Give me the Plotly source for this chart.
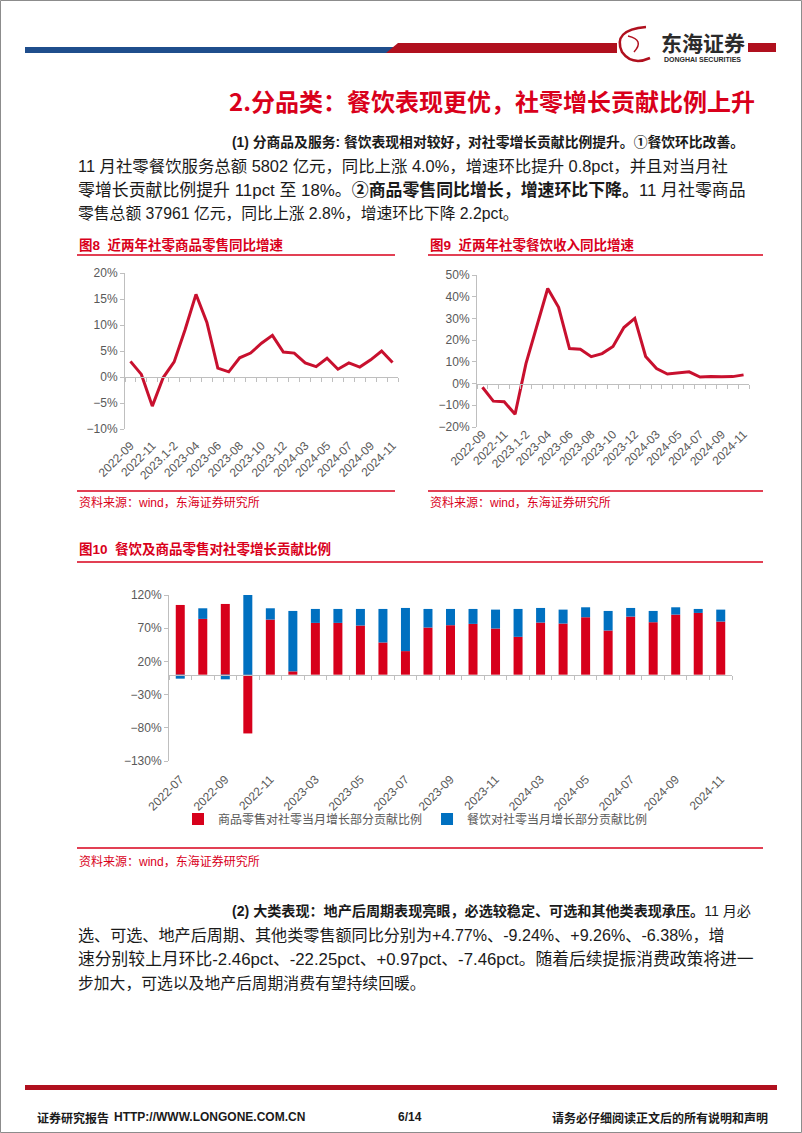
import plotly.graph_objects as go

W, H = 802, 1133

# ---------------- data ----------------
months_line = ["2022-09", "2022-10", "2022-11", "2022-12", "2023.1-2", "2023-03", "2023-04",
               "2023-05", "2023-06", "2023-07", "2023-08", "2023-09", "2023-10", "2023-11",
               "2023-12", "2024.1-2", "2024-03", "2024-04", "2024-05", "2024-06", "2024-07",
               "2024-08", "2024-09", "2024-10", "2024-11"]
goods_yoy = [3.0, 0.5, -5.6, -0.1, 2.9, 9.1, 15.9, 10.5, 1.7, 1.0, 3.7, 4.6, 6.5, 8.0,
             4.8, 4.6, 2.7, 2.0, 3.6, 1.5, 2.7, 1.9, 3.3, 5.0, 2.8]
catering_yoy = [-1.7, -8.1, -8.4, -14.1, 9.2, 26.3, 43.8, 35.1, 16.1, 15.8, 12.4, 13.8, 17.1,
                25.8, 30.0, 12.5, 6.9, 4.4, 5.0, 5.4, 3.0, 3.3, 3.1, 3.2, 4.0]

months_bar = ["2022-07", "2022-08", "2022-09", "2022-10", "2022-11", "2022-12", "2023-03",
              "2023-04", "2023-05", "2023-06", "2023-07", "2023-08", "2023-09", "2023-10",
              "2023-11", "2023-12", "2024-03", "2024-04", "2024-05", "2024-06", "2024-07",
              "2024-08", "2024-09", "2024-10", "2024-11"]
goods_share = [105, 84, 106.5, -88.5, 83, 5, 78, 78, 74, 48.5, 35.5, 71, 74.5, 76.5, 69.5,
               57, 78.5, 77, 86.5, 66.5, 87.5, 79, 90.5, 93, 80]
catering_share = [-6, 16, -7, 188.5, 17, 91, 21, 21, 25, 50.5, 65, 28, 24.5, 22.5, 28.5,
                  42, 22, 21, 15, 29.5, 13, 17, 11, 6, 18]

series_goods_name = "商品零售对社零当月增长部分贡献比例"
series_cat_name = "餐饮对社零当月增长部分贡献比例"

# ---------------- styles ----------------
RED_LINE = "#C8102E"
RED_BAR = "#D7001B"
BLUE_BAR = "#0070C0"
TITLE_RED = "#D9001B"
HDR_RED = "#B0101E"
HDR_BLUE = "#1F4E8C"
GRAY_TXT = "#595959"
AXIS_GRAY = "#BFBFBF"
CJK = "Liberation Sans, Noto Sans CJK SC"


def px(x):
    return x / W


def py(y):
    return 1 - y / H


fig = go.Figure()

# ---------------- traces ----------------
fig.add_trace(go.Scatter(x=list(range(len(months_line))), y=goods_yoy, mode="lines",
                         line=dict(color=RED_LINE, width=3), xaxis="x", yaxis="y",
                         showlegend=False, hoverinfo="skip"))
fig.add_trace(go.Scatter(x=list(range(len(months_line))), y=catering_yoy, mode="lines",
                         line=dict(color=RED_LINE, width=3), xaxis="x2", yaxis="y2",
                         showlegend=False, hoverinfo="skip"))
fig.add_trace(go.Bar(x=list(range(len(months_bar))), y=goods_share, name=series_goods_name,
                     marker=dict(color=RED_BAR, line=dict(width=0)), width=0.4,
                     xaxis="x3", yaxis="y3"))
fig.add_trace(go.Bar(x=list(range(len(months_bar))), y=catering_share, name=series_cat_name,
                     marker=dict(color=BLUE_BAR, line=dict(width=0)), width=0.4,
                     xaxis="x3", yaxis="y3"))


def axes(xl, xr, ytop, ybot, rng, dtick, labels, standoff):
    n = len(labels)
    yb, yt = py(ybot), py(ytop)
    pos = yb + (0 - rng[0]) / (rng[1] - rng[0]) * (yt - yb)
    xa = dict(domain=[px(xl), px(xr)], range=[-0.5, n - 0.5], type="linear",
              anchor="free", position=pos, showline=True, linecolor=AXIS_GRAY, linewidth=1,
              showgrid=False, zeroline=False, automargin=False,
              tickmode="array", tickvals=list(range(0, n, 2)), ticktext=labels[::2],
              ticks="", tickangle=-45, ticklabelstandoff=standoff,
              tickfont=dict(family="Liberation Sans", size=12, color=GRAY_TXT),
              minor=dict(tickmode="array", tickvals=[i - 0.5 for i in range(n + 1)],
                         ticks="outside", ticklen=4, tickcolor=AXIS_GRAY, showgrid=False),
              fixedrange=True)
    ya = dict(domain=[yb, yt], range=rng, dtick=dtick, tick0=rng[0], ticksuffix="%",
              showline=True, linecolor=AXIS_GRAY, linewidth=1, showgrid=False, zeroline=False,
              ticks="outside", ticklen=4, tickcolor=AXIS_GRAY, automargin=False,
              tickfont=dict(family="Liberation Sans", size=12, color=GRAY_TXT),
              fixedrange=True)
    return xa, ya


xa1, ya1 = axes(125, 398, 273, 429, [-10, 20], 5, months_line, 56)
xa2, ya2 = axes(477, 749, 275, 427, [-20, 50], 10, months_line, 38)
xa3, ya3 = axes(169, 732, 595, 761, [-130, 120], 50, months_bar, 92)
ya2["anchor"] = "x2"
ya3["anchor"] = "x3"
ya1["anchor"] = "x"

fig.update_layout(
    width=W, height=H, margin=dict(l=0, r=0, t=0, b=0, autoexpand=False),
    paper_bgcolor="white", plot_bgcolor="rgba(0,0,0,0)",
    barmode="relative",
    xaxis=xa1, yaxis=ya1, xaxis2=xa2, yaxis2=ya2, xaxis3=xa3, yaxis3=ya3,
    showlegend=True,
    legend=dict(orientation="h", x=px(178), y=py(819), xanchor="left", yanchor="middle",
                font=dict(family=CJK, size=12, color=GRAY_TXT), itemwidth=30,
                traceorder="normal", bgcolor="rgba(0,0,0,0)", tracegroupgap=0),
)

shapes = []
annotations = []


def hline(x0, x1, y, color, width):
    shapes.append(dict(type="line", xref="paper", yref="paper", x0=px(x0), x1=px(x1),
                       y0=py(y), y1=py(y), line=dict(color=color, width=width)))


def rect(x0, y0, x1, y1, color):
    shapes.append(dict(type="rect", xref="paper", yref="paper", x0=px(x0), x1=px(x1),
                       y0=py(y0), y1=py(y1), fillcolor=color, line=dict(width=0)))


def text(x, y, s, size, color="#1a1a1a", anchor="left", family=CJK, bold=False):
    if bold:
        s = "<b>" + s + "</b>"
    annotations.append(dict(x=px(x), y=py(y), xref="paper", yref="paper", text=s,
                            showarrow=False, xanchor=anchor, yanchor="middle",
                            font=dict(family=family, size=size, color=color)))


# ---------------- header ----------------
rect(25, 47, 395, 53, HDR_BLUE)
shapes.append(dict(type="path", xref="paper", yref="paper",
                   path="M {} {} L {} {} L {} {} L {} {} Z".format(
                       px(386), py(53), px(398), py(43), px(617), py(43), px(617), py(53)),
                   fillcolor=HDR_RED, line=dict(width=0)))
rect(748, 43, 776, 52, HDR_RED)
# logo mark (stylised)
shapes.append(dict(type="path", xref="paper", yref="paper",
                   path="M {} {} Q {} {} {} {} Q {} {} {} {}".format(
                       px(646), py(27), px(612), py(30), px(622), py(52),
                       px(632), py(66), px(650), py(58)),
                   line=dict(color=HDR_RED, width=2.5)))
shapes.append(dict(type="path", xref="paper", yref="paper",
                   path="M {} {} Q {} {} {} {}".format(
                       px(628), py(36), px(645), py(40), px(634), py(52)),
                   line=dict(color=HDR_RED, width=1.5)))
text(659, 42, "东海证券", 21, color="#2b2b2b", family="Noto Sans CJK SC", bold=True)
text(662, 59, "DONGHAI SECURITIES", 7, color="#2b2b2b", family="Liberation Sans", bold=True)

# page title
text(757, 100, "2.分品类：餐饮表现更优，社零增长贡献比例上升", 24, color=TITLE_RED,
     anchor="right", family="Noto Sans CJK SC", bold=True)

# paragraph 1
text(230, 142, "<b>(1) 分商品及服务: 餐饮表现相对较好，对社零增长贡献比例提升。①餐饮环比改善。</b>", 13.8)
text(76, 166, "11 月社零餐饮服务总额 5802 亿元，同比上涨 4.0%，增速环比提升 0.8pct，并且对当月社", 16.4)
text(76, 190, "零增长贡献比例提升 11pct 至 18%。<b>②商品零售同比增长，增速环比下降。</b>11 月社零商品", 16.9)
text(76, 214, "零售总额 37961 亿元，同比上涨 2.8%，增速环比下降 2.2pct。", 15.8)

# chart titles & frames
text(77, 245, "图8  近两年社零商品零售同比增速", 13.5, color=TITLE_RED, bold=True)
text(428, 245, "图9  近两年社零餐饮收入同比增速", 13.5, color=TITLE_RED, bold=True)
hline(77, 395, 255, TITLE_RED, 1.3)
hline(428, 763, 255, TITLE_RED, 1.3)
hline(77, 395, 491, TITLE_RED, 1.3)
hline(428, 763, 491, TITLE_RED, 1.3)
text(77, 503, "资料来源：wind，东海证券研究所", 12, color=TITLE_RED)
text(428, 503, "资料来源：wind，东海证券研究所", 12, color=TITLE_RED)

text(77, 549, "图10  餐饮及商品零售对社零增长贡献比例", 13.5, color=TITLE_RED, bold=True)
hline(77, 763, 562, TITLE_RED, 1.3)
hline(77, 763, 848, TITLE_RED, 1.3)
text(77, 861, "资料来源：wind，东海证券研究所", 12, color=TITLE_RED)

# paragraph 2
text(230, 911, "<b>(2) 大类表现：地产后周期表现亮眼，必选较稳定、可选和其他类表现承压。</b>11 月必", 14.1)
text(76, 935, "选、可选、地产后周期、其他类零售额同比分别为+4.77%、-9.24%、+9.26%、-6.38%，增", 16.1)
text(76, 959, "速分别较上月环比-2.46pct、-22.25pct、+0.97pct、-7.46pct。随着后续提振消费政策将进一", 16.8)
text(76, 983, "步加大，可选以及地产后周期消费有望持续回暖。", 15.8)

# footer
rect(25, 1085, 777, 1090, HDR_RED)
text(35, 1117, "证券研究报告", 12, color="#1a1a1a", family="Noto Sans CJK SC", bold=True)
text(112, 1117, "HTTP://WWW.LONGONE.COM.CN", 12, color="#1a1a1a", family="Liberation Sans Narrow, Liberation Sans", bold=True)
text(410, 1117, "6/14", 12, color="#1a1a1a", anchor="center", family="Liberation Sans", bold=True)
text(770, 1117, "请务必仔细阅读正文后的所有说明和声明", 12, color="#1a1a1a", anchor="right",
     family="Noto Sans CJK SC", bold=True)

# page border
shapes.append(dict(type="rect", xref="paper", yref="paper", x0=px(0.5), x1=px(801.5),
                   y0=py(1132.5), y1=py(0.5), line=dict(color="#8c8c8c", width=1)))

fig.update_layout(shapes=shapes, annotations=annotations)
fig.write_html("out.html")
